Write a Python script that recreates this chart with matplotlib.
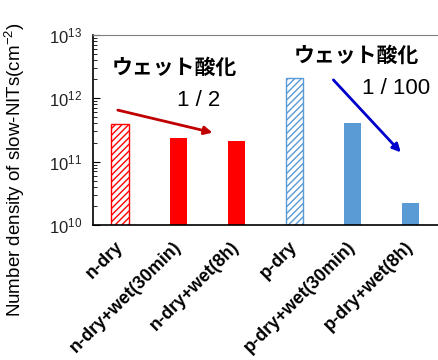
import numpy as np
import matplotlib
matplotlib.use("Agg")
import matplotlib.pyplot as plt

plt.rcParams['font.family'] = ['Liberation Sans', 'DejaVu Sans']
plt.rcParams['mathtext.default'] = 'regular'

# values (cm^-2)
samples = ["n-dry", "n-dry+wet(30min)", "n-dry+wet(8h)",
           "p-dry", "p-dry+wet(30min)", "p-dry+wet(8h)"]
density = [3.9e11, 2.4e11, 2.1e11, 2.1e12, 4.0e11, 2.2e10]
hatched = [True, False, False, True, False, False]
colors = ["#FF0000", "#FF0000", "#FF0000", "#5B9BD5", "#5B9BD5", "#5B9BD5"]

fig = plt.figure(figsize=(4.38, 3.6), dpi=100)
ax = fig.add_axes([0.212, 0.375, 0.788, 0.528])

x = np.arange(len(samples))
for xi, v, h, c in zip(x, density, hatched, colors):
    if h:
        ax.bar(xi, v, width=0.3, facecolor='white', edgecolor=c, hatch='/////',
               linewidth=1.0)
    else:
        ax.bar(xi, v, width=0.3, color=c)

ax.set_yscale('log')
ax.set_ylim(1e10, 1e13)
ax.set_xlim(-0.47, 5.47)

ax.spines['right'].set_visible(False)
ax.spines['top'].set_color('#808080')
ax.spines['left'].set_linewidth(1.2)
ax.spines['bottom'].set_linewidth(1.2)

ax.tick_params(axis='y', which='both', direction='in', right=False,
               labelsize=12, pad=8, labelcolor='#222222')
ax.tick_params(axis='y', which='major', length=5)
ax.tick_params(axis='y', which='minor', length=3)
ax.tick_params(axis='x', length=0, pad=14)

ax.set_xticks(x)
ax.set_xticklabels(samples, rotation=45, ha='right', rotation_mode='anchor',
                   va='center', fontsize=13, fontweight='bold')

ax.set_ylabel('Number density of slow-NITs(cm$^{-2}$)', fontsize=13.5)
ax.yaxis.set_label_coords(-0.19, 0.29)

jp = ['Noto Sans CJK JP', 'DejaVu Sans']
ax.text(0.94, 3.1e12, 'ウェット酸化', family=jp, fontsize=15, fontweight='bold',
        ha='center', va='center')
ax.text(4.07, 4.8e12, 'ウェット酸化', family=jp, fontsize=15, fontweight='bold',
        ha='center', va='center')
ax.text(1.35, 9.1e11, '1 / 2', fontsize=16, ha='center', va='center')
ax.text(4.75, 1.43e12, '1 / 100', fontsize=16, ha='center', va='center')

ax.annotate('', xy=(1.59, 2.87e11), xytext=(-0.04, 6.5e11),
            arrowprops=dict(arrowstyle='-|>', color='#C00000', lw=2,
                            mutation_scale=12, shrinkA=0, shrinkB=0))
ax.annotate('', xy=(4.83, 1.4e11), xytext=(3.67, 1.95e12),
            arrowprops=dict(arrowstyle='-|>', color='#0000CC', lw=2,
                            mutation_scale=12, shrinkA=0, shrinkB=0))

fig.savefig('out.png', dpi=100)
